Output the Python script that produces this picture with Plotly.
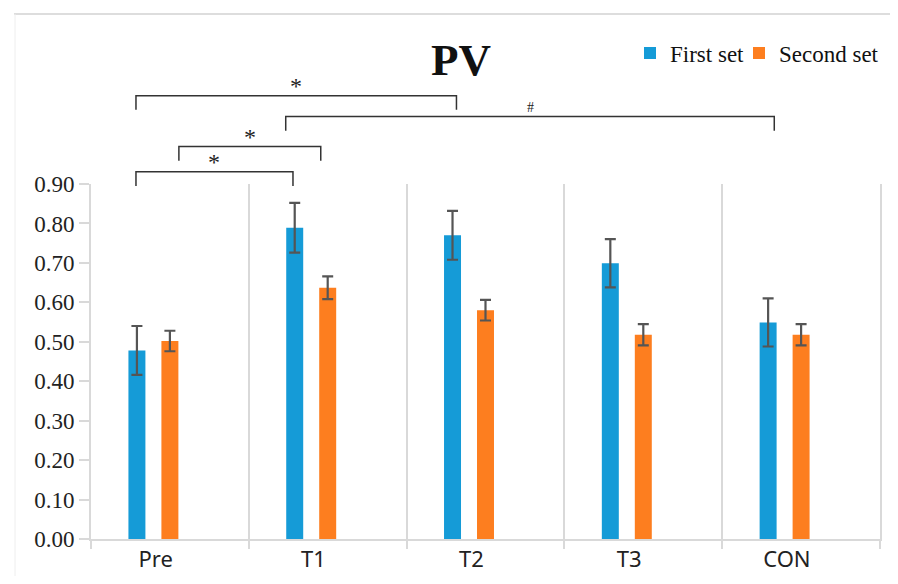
import plotly.graph_objects as go

# ---- data ----
categories = ["Pre", "T1", "T2", "T3", "CON"]
first_set = [0.478, 0.789, 0.770, 0.699, 0.549]
first_err = [0.062, 0.063, 0.062, 0.061, 0.061]
second_set = [0.502, 0.637, 0.580, 0.518, 0.518]
second_err = [0.026, 0.029, 0.026, 0.027, 0.027]
y_ticks = [0.0, 0.1, 0.2, 0.3, 0.4, 0.5, 0.6, 0.7, 0.8, 0.9]

# significance brackets: (x_start, x_end, y_level, label) in axis units
brackets = [
    (-0.215, 1.816, 1.124, "*"),
    (0.734, 3.830, 1.071, "#"),
    (0.057, 0.956, 0.995, "*"),
    (-0.215, 0.780, 0.931, "*"),
]
LEG = 0.036
Y_MAX = 0.9

BLUE = "#159bd7"
ORANGE = "#fd7e1f"
GRID = "#d9d9d9"

x_idx = list(range(len(categories)))

fig = go.Figure()
fig.add_trace(go.Bar(
    x=x_idx, y=first_set, name="First set", marker_color=BLUE,
    marker_line_width=0, legend="legend",
    error_y=dict(type="data", array=first_err, color="#555555", thickness=2.2, width=5.5),
))
fig.add_trace(go.Bar(
    x=x_idx, y=second_set, name="Second set", marker_color=ORANGE,
    marker_line_width=0, legend="legend2",
    error_y=dict(type="data", array=second_err, color="#555555", thickness=2.2, width=5.5),
))
fig.add_trace(go.Bar(
    x=x_idx, y=[None] * len(x_idx), name="", showlegend=False, hoverinfo="skip",
))

def py(v):
    return v / Y_MAX

shapes = []
annotations = []
for x0, x1, yl, lab in brackets:
    shapes.append(dict(type="path", xref="x", yref="paper",
                       path=f"M {x0},{py(yl - LEG)} L {x0},{py(yl)} L {x1},{py(yl)} L {x1},{py(yl - LEG)}",
                       line=dict(color="#333333", width=1.5)))
    if lab == "*":
        annotations.append(dict(x=(x0 + x1) / 2, y=py(yl), xref="x", yref="paper",
                                text="*", showarrow=False, yanchor="bottom", yshift=-5,
                                font=dict(family="Liberation Serif", size=24, color="#222")))
    else:
        annotations.append(dict(x=(x0 + x1) / 2, y=py(yl), xref="x", yref="paper",
                                text="#", showarrow=False, yanchor="bottom", yshift=0,
                                font=dict(family="Liberation Serif", size=14, color="#222")))

# title
annotations.append(dict(x=(461 - 91) / 789, y=(539 - 60) / 355, xref="paper", yref="paper",
                        text="<b>PV</b>", showarrow=False, xanchor="center", yanchor="middle",
                        font=dict(family="Liberation Serif", size=45, color="#111")))

# outer frame lines (top and left)
shapes.append(dict(type="line", xref="paper", yref="paper",
                   x0=(14 - 91) / 789, x1=(898 - 91) / 789, y0=(539 - 14) / 355, y1=(539 - 14) / 355,
                   line=dict(color="#dddddd", width=2)))
shapes.append(dict(type="line", xref="paper", yref="paper",
                   x0=(15 - 91) / 789, x1=(15 - 91) / 789, y0=(539 - 14) / 355, y1=(539 - 600) / 355,
                   line=dict(color="#eeeeee", width=1)))

legend_style = dict(orientation="h", xanchor="left", yanchor="middle",
                    font=dict(family="Liberation Serif", size=23, color="#111"),
                    itemwidth=30, bgcolor="rgba(0,0,0,0)")

fig.update_layout(
    width=882, height=568,
    margin=dict(l=83, r=10, t=176, b=37, autoexpand=False),
    paper_bgcolor="white", plot_bgcolor="white",
    barmode="group", bargap=0.373, bargroupgap=0.485,
    showlegend=True,
    legend=dict(x=(630 - 91) / 789, y=(539 - 53) / 355, **legend_style),
    legend2=dict(x=(739 - 91) / 789, y=(539 - 53) / 355, **legend_style),
    shapes=shapes, annotations=annotations,
)
fig.update_xaxes(
    range=[-0.5, 4.5],
    tickmode="array", tickvals=[i - 0.09 for i in x_idx], ticktext=categories,
    ticks="", showgrid=False, zeroline=False,
    showline=True, linecolor=GRID, linewidth=2,
    tickfont=dict(family="Noto Sans", size=22, color="#222"),
    minor=dict(tick0=-0.5, dtick=1, ticks="outside", ticklen=8, tickwidth=2,
               tickcolor=GRID, showgrid=True, gridcolor=GRID, gridwidth=2),
)
fig.update_yaxes(
    range=[0, Y_MAX], tickmode="array", tickvals=y_ticks, tickformat=".2f",
    ticks="outside", ticklen=10, tickwidth=2, tickcolor=GRID,
    showgrid=False, zeroline=False,
    showline=True, linecolor=GRID, linewidth=2, mirror=True,
    tickfont=dict(family="Liberation Serif", size=23, color="#222"),
)

fig.write_html("out.html")
